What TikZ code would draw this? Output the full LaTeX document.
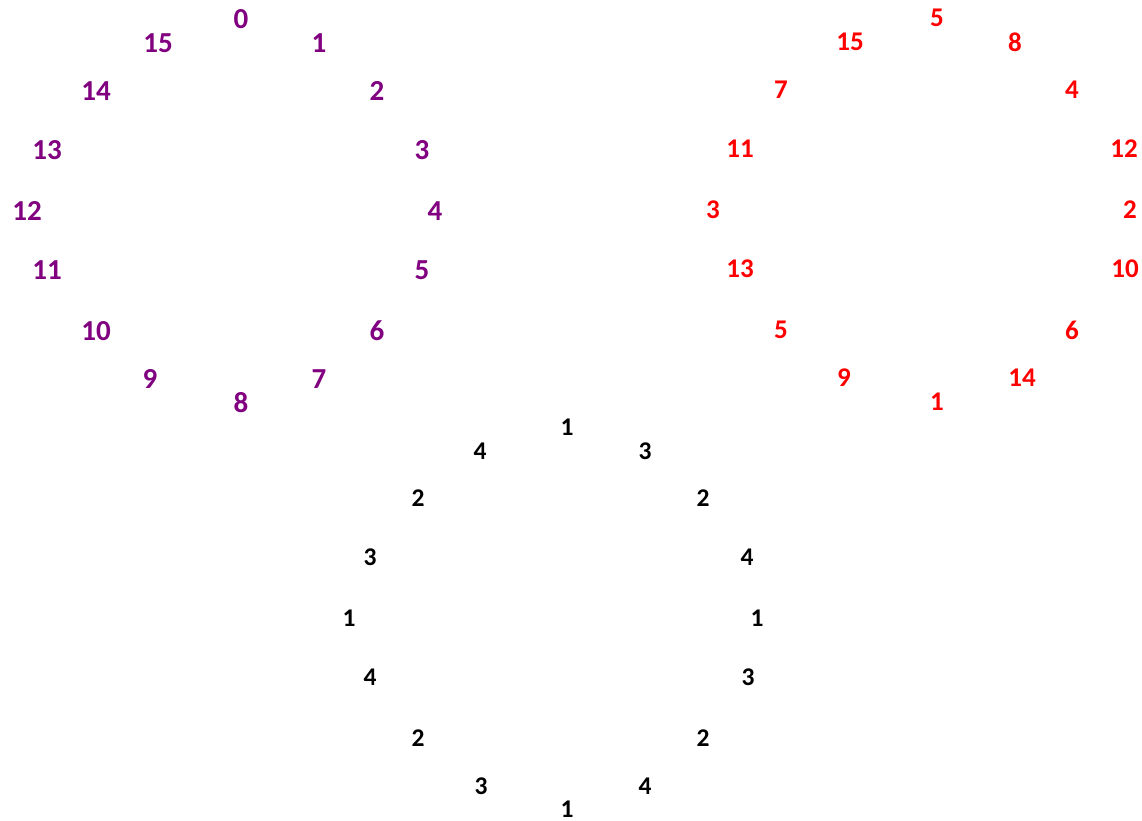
\documentclass[tikz,border=0pt]{standalone}
\usepackage{fontspec}
\setmainfont{Carlito}
\usepackage{tikz}
\definecolor{purpleA}{HTML}{800080}
\definecolor{redA}{HTML}{FF0000}
\definecolor{blackA}{HTML}{000000}
\tikzset{
  digit/.style={text=#1, inner sep=0pt, anchor=center},
  outerlbl/.style={digit=purpleA, font=\fontsize{29pt}{32pt}\selectfont\bfseries},
  mixlbl/.style={digit=redA, font=\fontsize{27pt}{30pt}\selectfont\bfseries},
  innerlbl/.style={digit=blackA, font=\fontsize{25.5pt}{28pt}\selectfont\bfseries}
}
\begin{document}
\begin{tikzpicture}[x=1pt, y=-1pt]
  \useasboundingbox (0,0) rectangle (1142,820);
  % purple ring, 0..15 in order
  \foreach \t/\x/\y [count=\k] in {0/241/19, 1/319/43, 2/377/91, 3/422/150,
      4/435/211, 5/422/270, 6/377/331, 7/319/379, 8/241/403, 9/150/379,
      10/96/331, 11/47/270, 12/27/211, 13/47/150, 14/96/91, 15/158/43}
    \node[outerlbl] (p\k) at (\x,\y) {\t};
  % red ring, permuted
  \foreach \t/\x/\y [count=\k] in {5/937/18, 8/1015/42, 4/1072/90, 12/1124/149,
      2/1130/210, 10/1125/269, 6/1072/330, 14/1022/378, 1/937/402, 9/844/378,
      5/781/330, 13/740/269, 3/713/210, 11/740/149, 7/781/90, 15/850/42}
    \node[mixlbl] (r\k) at (\x,\y) {\t};
  % black ring
  \foreach \t/\x/\y [count=\k] in {1/567/427, 3/645/451, 2/703/498, 4/747/557,
      1/757/618, 3/748/677, 2/703/738, 4/645/786, 1/567/809, 3/481/786,
      2/418/738, 4/370/677, 1/349/618, 3/370/557, 2/418/498, 4/480/451}
    \node[innerlbl] (b\k) at (\x,\y) {\t};
\end{tikzpicture}
\end{document}
